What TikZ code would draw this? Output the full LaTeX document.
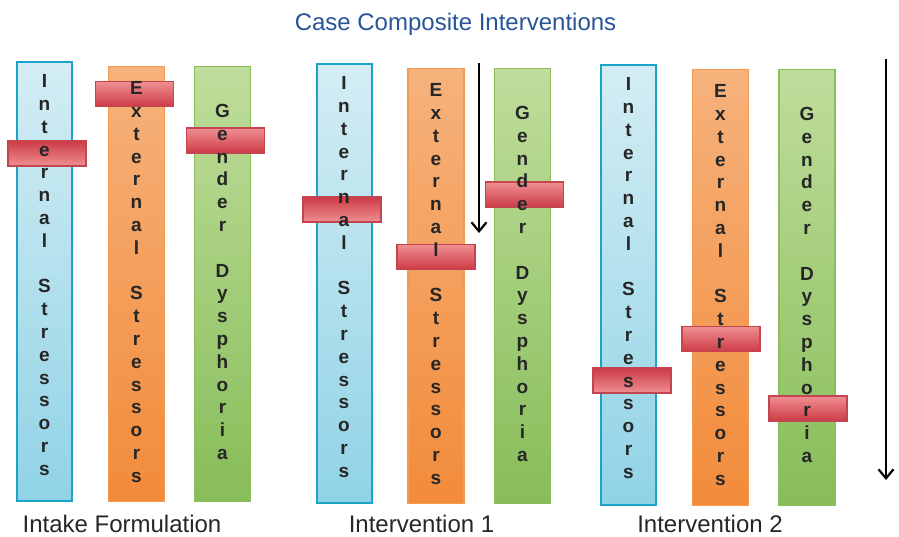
\documentclass[tikz,border=0pt]{standalone}
\usepackage{fontspec}
\setmainfont{Liberation Sans}
\usetikzlibrary{arrows.meta}

\definecolor{inlight}{HTML}{D4EDF4}
\definecolor{indark}{HTML}{90D3E6}
\definecolor{inedge}{HTML}{1BA4C8}
\definecolor{exlight}{HTML}{F6B27C}
\definecolor{exdark}{HTML}{F28B3A}
\definecolor{exedge}{HTML}{F39A52}
\definecolor{genlight}{HTML}{BFDD9B}
\definecolor{gendark}{HTML}{87BD59}
\definecolor{genedge}{HTML}{8BBD5D}
\definecolor{redlight}{HTML}{EF8F92}
\definecolor{reddark}{HTML}{CD3B45}
\definecolor{rededge}{HTML}{C24550}
\definecolor{titleblue}{RGB}{40,84,152}

\newcommand{\wordint}{I\\n\\t\\e\\r\\n\\a\\l\\[22.8pt]S\\t\\r\\e\\s\\s\\o\\r\\s}
\newcommand{\wordext}{E\\x\\t\\e\\r\\n\\a\\l\\[22.8pt]S\\t\\r\\e\\s\\s\\o\\r\\s}
\newcommand{\wordgen}{G\\e\\n\\d\\e\\r\\[22.8pt]D\\y\\s\\p\\h\\o\\r\\i\\a}

\tikzset{
  inbar/.style={draw=inedge, line width=2pt, top color=inlight, bottom color=indark, minimum width=55, inner sep=0pt},
  exbar/.style={draw=exedge, line width=1.2pt, top color=exlight, bottom color=exdark, minimum width=56, inner sep=0pt},
  genbar/.style={draw=genedge, line width=1.2pt, top color=genlight, bottom color=gendark, minimum width=56, inner sep=0pt},
  redbar/.style={draw=rededge, line width=1.2pt, top color=redlight, bottom color=reddark, minimum width=78, minimum height=25, inner sep=0pt},
  redbarflip/.style={redbar, top color=reddark, bottom color=redlight},
  letters/.style={font=\fontsize{19}{22.8}\selectfont\bfseries, align=center, inner sep=0pt, text=black!85},
  steplabel/.style={font=\fontsize{24}{28}\selectfont, text=black!85, anchor=base, inner sep=0pt}
}

\begin{document}
\begin{tikzpicture}[x=1pt, y=-1pt, >={Straight Barb[length=9pt,width=15pt]}]
  \useasboundingbox (0,0) rectangle (899,537);

  % title
  \node (title) [font=\fontsize{24}{28}\selectfont, text=titleblue, anchor=base, inner sep=0pt] at (455.5,30.5) {Case Composite Interventions};

  % intake formulation
  \node (int1) [inbar, minimum height=439] at (44.5,281.5) {};
  \node (ext1) [exbar, minimum height=435] at (136.5,284) {};
  \node (gen1) [genbar, minimum height=435] at (222.5,284) {};
  \node (mi1) [redbarflip] at (47,153.5) {};
  \node (me1) [redbar] at (134.5,94) {};
  \node (mg1) [redbar] at (225.5,140.5) {};
  \node (int1txt) [letters] at (44.5,275) {\wordint};
  \node (ext1txt) [letters] at (136.5,282) {\wordext};
  \node (gen1txt) [letters] at (222.5,282) {\wordgen};

  % intervention 1
  \node (int2) [inbar, minimum height=439] at (344,283.5) {};
  \node (ext2) [exbar, minimum height=435] at (436,286) {};
  \node (gen2) [genbar, minimum height=435] at (522.5,286) {};
  \node (mi2) [redbarflip] at (342,209.5) {};
  \node (me2) [redbar] at (436,257) {};
  \node (mg2) [redbar] at (524.5,194.5) {};
  \node (int2txt) [letters] at (344,277) {\wordint};
  \node (ext2txt) [letters] at (436,284) {\wordext};
  \node (gen2txt) [letters] at (522.5,284) {\wordgen};

  % intervention 2
  \node (int3) [inbar, minimum height=440] at (628.5,285) {};
  \node (ext3) [exbar, minimum height=436] at (720.5,287.5) {};
  \node (gen3) [genbar, minimum height=436] at (807,287.5) {};
  \node (mi3) [redbarflip] at (632,380.5) {};
  \node (me3) [redbar] at (721,339) {};
  \node (mg3) [redbar] at (808,408.5) {};
  \node (int3txt) [letters] at (628.5,278) {\wordint};
  \node (ext3txt) [letters] at (720.5,285) {\wordext};
  \node (gen3txt) [letters] at (807,285) {\wordgen};

  % captions
  \node (cap1) [steplabel] at (122,532) {Intake Formulation};
  \node (cap2) [steplabel] at (421.5,532) {Intervention 1};
  \node (cap3) [steplabel] at (710,532) {Intervention 2};

  % arrows
  \coordinate (a1top) at (479,63);
  \coordinate (a1end) at (479,233);
  \coordinate (a2top) at (886,59);
  \coordinate (a2end) at (886,480);
  \draw [->, line width=2.2pt] (a1top) -- (a1end);
  \draw [->, line width=2.2pt] (a2top) -- (a2end);
\end{tikzpicture}
\end{document}
